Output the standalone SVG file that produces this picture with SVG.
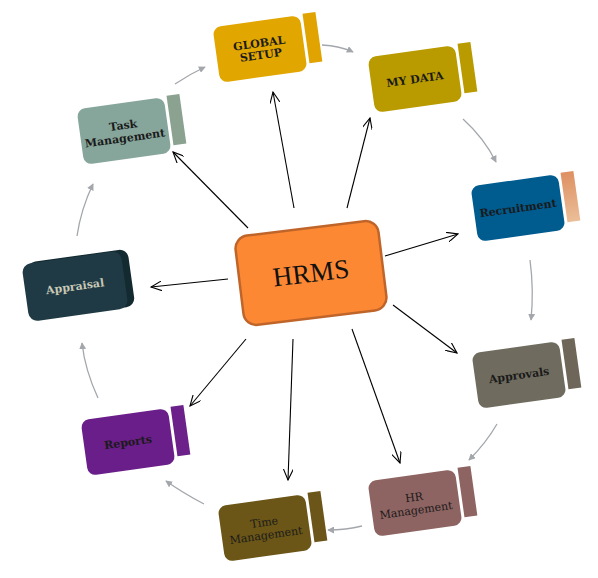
<svg xmlns="http://www.w3.org/2000/svg" width="598" height="578" viewBox="0 0 598 578">
<defs>
<style>
.lbl{font-family:"DejaVu Serif","Liberation Serif",serif;font-weight:bold;font-size:11px;fill:#1a1a1a;text-anchor:middle}
.blk{stroke:#000;stroke-width:1.1;fill:none;marker-end:url(#ab)}
.gry{stroke:#A3A7AB;stroke-width:1.3;fill:none;marker-end:url(#ag)}
</style>
<marker id="ab" viewBox="0 0 12 10" refX="11" refY="5" markerWidth="12" markerHeight="10" markerUnits="userSpaceOnUse" orient="auto">
<path d="M0,0 L11,5 L0,10" fill="none" stroke="#000" stroke-width="1.1"/>
</marker>
<marker id="ag" viewBox="0 0 8 8" refX="7" refY="4" markerWidth="7" markerHeight="7" markerUnits="userSpaceOnUse" orient="auto">
<path d="M0,0 L8,4 L0,8 Z" fill="#A3A7AB"/>
</marker>
<linearGradient id="rtab" x1="0" y1="0" x2="0" y2="1">
<stop offset="0" stop-color="#DE9062"/>
<stop offset="1" stop-color="#EBBE98"/>
</linearGradient>
</defs>

<g id="connectors">
<line class="blk" x1="248" y1="228" x2="173" y2="152"/>
<line class="blk" x1="294" y1="208" x2="273" y2="92"/>
<line class="blk" x1="347" y1="208" x2="370" y2="118"/>
<line class="blk" x1="385" y1="256" x2="458" y2="234"/>
<line class="blk" x1="228" y1="279" x2="151" y2="287"/>
<line class="blk" x1="393" y1="305" x2="457" y2="353"/>
<line class="blk" x1="246" y1="339" x2="190" y2="406"/>
<line class="blk" x1="293" y1="339" x2="288" y2="480"/>
<line class="blk" x1="352" y1="329" x2="400" y2="463"/>
<path class="gry" d="M175,84 Q190,74 205,67"/>
<path class="gry" d="M322,45 Q340,46 353,52"/>
<path class="gry" d="M463,119 Q484,138 496,162"/>
<path class="gry" d="M530,260 Q534,290 531,320"/>
<path class="gry" d="M497,424 Q486,443 469,460"/>
<path class="gry" d="M362,526 Q346,530 328,530"/>
<path class="gry" d="M204,504 Q183,493 166,481"/>
<path class="gry" d="M98,398 Q85,370 82,343"/>
<path class="gry" d="M77,236 Q81,209 93,184"/>
</g>

<g id="hrms" transform="translate(311,273) rotate(-7)">
<rect x="-72" y="-45" width="144" height="90" rx="13" fill="#FD8834" stroke="#C0652A" stroke-width="2.5"/>
<text x="0" y="9" style="font-family:'Liberation Serif','DejaVu Serif',serif;font-size:27px;fill:#111;text-anchor:middle">HRMS</text>
</g>

<g id="global-setup" transform="translate(260,49) rotate(-8)">
<rect x="-44" y="-28" width="88" height="56" rx="8" fill="#E1A600"/>
<rect x="47" y="-29" width="13" height="50" fill="#E0A300"/>
<text class="lbl" x="0" y="-2">GLOBAL</text>
<text class="lbl" x="0" y="10">SETUP</text>
</g>

<g id="my-data" transform="translate(415,79) rotate(-8)">
<rect x="-44" y="-28" width="88" height="56" rx="8" fill="#B99B00"/>
<rect x="47" y="-29" width="13" height="50" fill="#B99B00"/>
<text class="lbl" x="0" y="4">MY DATA</text>
</g>

<g id="recruitment" transform="translate(518,208) rotate(-8)">
<rect x="-44" y="-28" width="88" height="56" rx="8" fill="#005B8F"/>
<rect x="47" y="-29" width="13" height="50" fill="url(#rtab)"/>
<text class="lbl" x="0" y="4">Recruitment</text>
</g>

<g id="task-management" transform="translate(124,131) rotate(-8)">
<rect x="-44" y="-28" width="88" height="56" rx="8" fill="#87A69B"/>
<rect x="47" y="-29" width="13" height="50" fill="#8BA290"/>
<text class="lbl" x="0" y="-2">Task</text>
<text class="lbl" x="0" y="11">Management</text>
</g>

<g id="approvals" transform="translate(519,375) rotate(-8)">
<rect x="-44" y="-28" width="88" height="56" rx="8" fill="#6F6C5F"/>
<rect x="47" y="-29" width="13" height="50" fill="#6E6659"/>
<text class="lbl" x="0" y="4">Approvals</text>
</g>

<g id="hr-management" transform="translate(415,503) rotate(-8)">
<rect x="-44" y="-28" width="88" height="56" rx="8" fill="#8E6462"/>
<rect x="47" y="-29" width="13" height="50" fill="#8E6462"/>
<text class="lbl" x="0" y="-2" style="font-weight:normal">HR</text>
<text class="lbl" x="0" y="11" style="font-weight:normal">Management</text>
</g>

<g id="time-management" transform="translate(265,528) rotate(-8)">
<rect x="-44" y="-28" width="88" height="56" rx="8" fill="#6B5617"/>
<rect x="47" y="-29" width="13" height="50" fill="#6B5519"/>
<text class="lbl" x="0" y="-2" style="font-weight:normal">Time</text>
<text class="lbl" x="0" y="11" style="font-weight:normal">Management</text>
</g>

<g id="reports" transform="translate(128,442) rotate(-8)">
<rect x="-44" y="-28" width="88" height="56" rx="8" fill="#6A1E89"/>
<rect x="47" y="-29" width="13" height="50" fill="#6C2089"/>
<text class="lbl" x="0" y="4">Reports</text>
</g>

<g id="appraisal" transform="translate(77,286) rotate(-8)">
<rect x="-47" y="-30" width="102" height="58" rx="9" fill="#132A31"/>
<rect x="-52" y="-29" width="100" height="58" rx="9" fill="#1F3A44"/>
<text class="lbl" x="-2" y="4" style="fill:#C9C8B6">Appraisal</text>
</g>
</svg>
